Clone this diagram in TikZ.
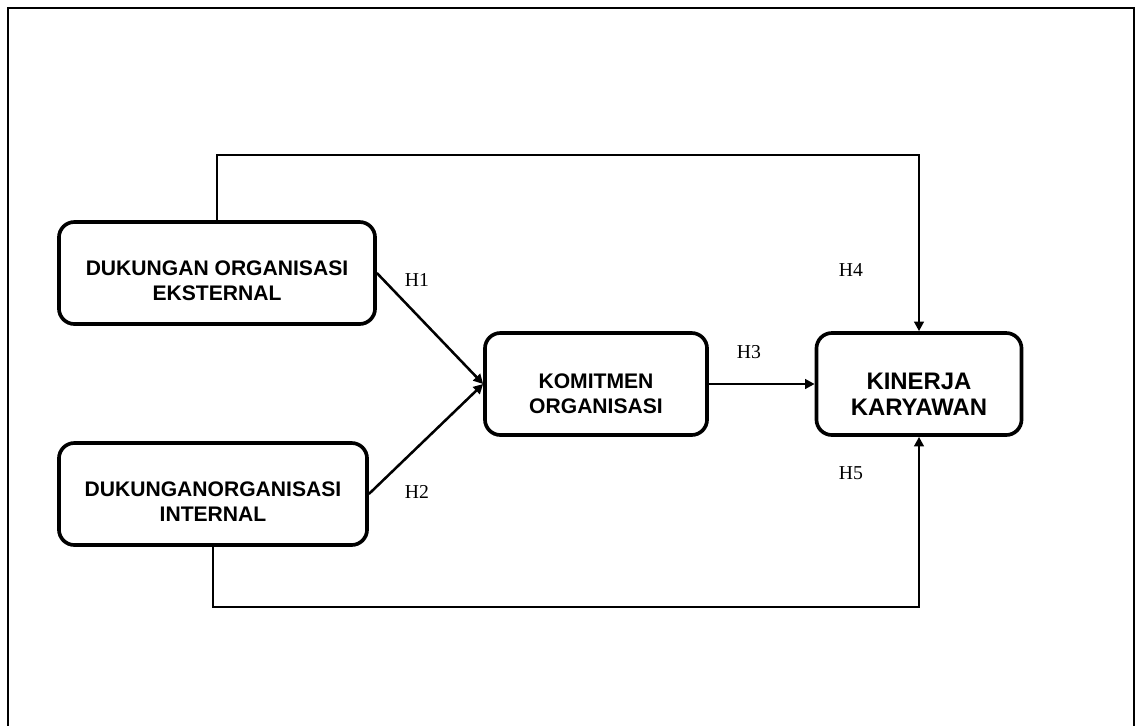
\documentclass[tikz,border=0pt]{standalone}
\usepackage{fontspec}
\setmainfont{Liberation Serif}
\newfontfamily\boxfont{Liberation Sans}
\usepackage{tikz}
\usetikzlibrary{arrows.meta,positioning,calc}

\begin{document}
\begin{tikzpicture}[
  x=0.025cm, y=-0.025cm,
  varbox/.style={rounded corners=11pt,draw=black,line width=2.6pt,fill=white,minimum height=2.55cm,inner sep=0pt},
  vartext/.style={align=center,font=\boxfont\bfseries\fontsize{15}{17.8}\selectfont,inner sep=0pt},
  bigtext/.style={align=center,font=\boxfont\bfseries\fontsize{17}{18.5}\selectfont,inner sep=0pt},
  hyp/.style={font=\fontsize{14}{16}\selectfont,inner sep=0pt},
  arrow/.style={-{Triangle[length=2.4mm,width=2.4mm]},draw=black,line width=1.8pt}
]
\useasboundingbox (0,0) rectangle (1136,725);
\draw[line width=1.4pt] (8,8) rectangle (1134,740);

% variabel
\node[varbox,minimum width=7.9cm] (doe) at (217,273) {};
\node[vartext] (doe-t) at ([yshift=-0.2cm]doe.center) {DUKUNGAN ORGANISASI\\EKSTERNAL};
\node[varbox,minimum width=7.7cm] (doi) at (213,494) {};
\node[vartext] (doi-t) at ([yshift=-0.2cm]doi.center) {DUKUNGANORGANISASI\\INTERNAL};
\node[varbox,minimum width=5.55cm] (kom) at (596,384) {};
\node[vartext] (kom-t) at ([yshift=-0.25cm]kom.center) {KOMITMEN\\ORGANISASI};
\node[varbox,minimum width=5.125cm] (kk) at (919,384) {};
\node[bigtext] (kk-t) at ([yshift=-0.25cm]kk.center) {KINERJA\\KARYAWAN};

% hipotesis
\draw[arrow] (doe.east) -- (kom.west);
\draw[arrow] (doi.east) -- (kom.west);
\draw[arrow] (kom.east) -- (kk.west);
\draw[arrow] (doe.north) -- ++(0,-65) -| (kk.north);
\draw[arrow] (doi.south) -- ++(0,60) -| (kk.south);

\node[hyp] (h1) at (417,280) {H1};
\node[hyp] (h2) at (417,492) {H2};
\node[hyp] (h3) at (749,352) {H3};
\node[hyp] (h4) at (851,270) {H4};
\node[hyp] (h5) at (851,473) {H5};
\end{tikzpicture}
\end{document}
